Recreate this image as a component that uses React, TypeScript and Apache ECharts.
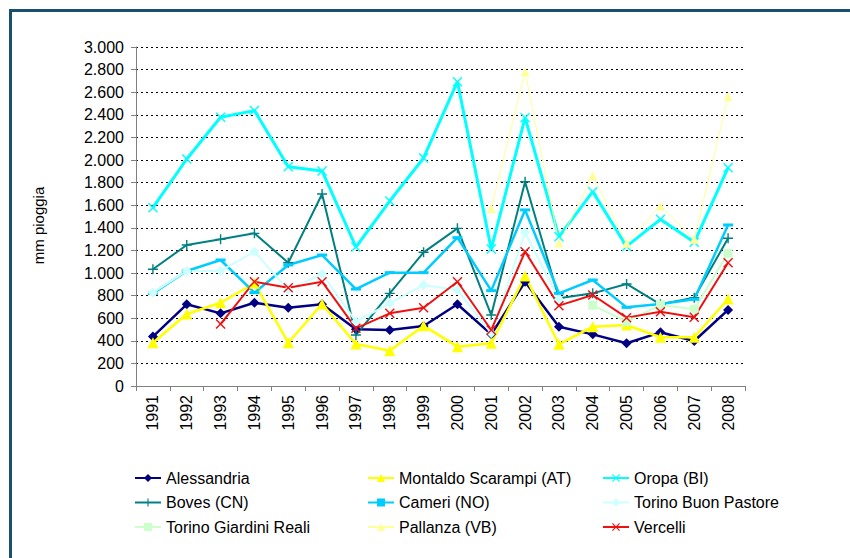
import React, { useEffect, useRef } from "react";
import * as echarts from "echarts";

const years = ["1991","1992","1993","1994","1995","1996","1997","1998","1999","2000","2001","2002","2003","2004","2005","2006","2007","2008"];
const alessandria = [437, 723, 643, 737, 693, 723, 502, 496, 531, 723, 457, 923, 525, 457, 378, 475, 398, 673];
const montaldo = [383, 637, 737, 909, 383, 726, 372, 312, 534, 348, 378, 974, 369, 525, 540, 431, 431, 770];
const oropa = [1578, 2009, 2378, 2437, 1941, 1903, 1230, 1637, 2018, 2693, 1212, 2375, 1320, 1720, 1235, 1475, 1272, 1932];
const boves = [1033, 1248, 1298, 1351, 1091, 1699, 451, 820, 1183, 1395, 628, 1808, 776, 820, 903, 723, 782, 1307];
const cameri = [820, 1018, 1115, 826, 1071, 1159, 858, 1003, 1003, 1313, 844, 1558, 820, 938, 696, 726, 767, 1425];
const torinoBuonPastore = [826, 1018, 1018, 1189, 850, 991, 569, 732, 894, 850, 466, 1360, 767, null, null, null, null, null];
const torinoGiardiniReali = [null, null, null, null, null, null, null, null, null, null, null, null, null, 715, 569, 717, 679, 1174];
const pallanza = [null, null, null, null, null, null, null, null, null, null, 1570, 2782, 1265, 1861, 1263, 1593, 1298, 2560];
const vercelli = [null, null, 548, 923, 870, 923, 510, 643, 693, 923, 496, 1189, 711, 805, 605, 658, 608, 1091];

const X_SYM = "path://M0,1L1,0L5,4L9,0L10,1L6,5L10,9L9,10L5,6L1,10L0,9L4,5Z";
const PLUS_SYM = "path://M4.3,0H5.7V4.3H10V5.7H5.7V10H4.3V5.7H0V4.3H4.3Z";

const FONT = "Arial, 'Liberation Sans', sans-serif";

function fmt(v: number): string {
  if (v >= 1000) {
    const th = Math.floor(v / 1000);
    const rest = String(v % 1000).padStart(3, "0");
    return th + "." + rest;
  }
  return String(v);
}

export default function App() {
  const ref = useRef<HTMLDivElement>(null);
  useEffect(() => {
    if (!ref.current) return;
    const chart = echarts.init(ref.current, null, { renderer: "svg" });
    const mk = (name: string, data: (number | null)[], color: string, width: number, symbol: string, size: any) => ({
      name,
      type: "line",
      data,
      symbol,
      symbolSize: size,
      showSymbol: true,
      lineStyle: { color, width },
      itemStyle: { color, borderColor: color, borderWidth: 0 },
      emphasis: { disabled: true },
    });
    const legendBase = {
      orient: "vertical",
      top: 465,
      itemWidth: 26,
      itemHeight: 10,
      itemGap: 8.5,
      textStyle: { fontSize: 16, fontFamily: FONT, color: "#000", lineHeight: 16 },
    };
    chart.setOption({
      animation: false,
      backgroundColor: "#fff",
      graphic: [
        {
          type: "rect",
          shape: { x: 10.5, y: 10.5, width: 900, height: 600 },
          style: { fill: "none", stroke: "#1B4F72", lineWidth: 3 },
          silent: true,
        },
      ],
      grid: { left: 136, right: 105, top: 47, bottom: 172 },
      legend: [
        { ...legendBase, left: 129, data: ["Alessandria", "Boves (CN)", "Torino Giardini Reali"] },
        { ...legendBase, left: 362, data: ["Montaldo Scarampi (AT)", "Cameri (NO)", "Pallanza (VB)"] },
        { ...legendBase, left: 597, data: ["Oropa (BI)", "Torino Buon Pastore", "Vercelli"] },
      ],
      xAxis: {
        type: "category",
        data: years,
        boundaryGap: true,
        axisLine: { lineStyle: { color: "#808080", width: 1 } },
        axisTick: { show: true, length: 5, alignWithLabel: false, lineStyle: { color: "#808080" } },
        axisLabel: { rotate: 90, fontSize: 16, fontFamily: FONT, color: "#000", margin: 9 },
        splitLine: { show: false },
      },
      yAxis: {
        type: "value",
        min: 0,
        max: 3000,
        interval: 200,
        name: "mm pioggia",
        nameLocation: "middle",
        nameGap: 90,
        nameRotate: 90,
        nameTextStyle: { fontSize: 15, fontFamily: FONT, color: "#000", padding: [0, 18, 0, 0] },
        axisLine: { show: true, lineStyle: { color: "#808080", width: 1 } },
        axisTick: { show: true, length: 5, lineStyle: { color: "#808080" } },
        axisLabel: { fontSize: 16, fontFamily: FONT, color: "#000", margin: 12, formatter: fmt },
        splitLine: { show: true, lineStyle: { color: "#000", width: 1, type: [2, 3] } },
      },
      series: [
        mk("Alessandria", alessandria, "#000080", 2.5, "diamond", 10),
        mk("Montaldo Scarampi (AT)", montaldo, "#FFFF00", 2.5, "triangle", 11),
        mk("Oropa (BI)", oropa, "#00FFFF", 3, X_SYM, 10),
        mk("Boves (CN)", boves, "#008080", 2, PLUS_SYM, 10),
        mk("Cameri (NO)", cameri, "#00CCFF", 2.5, "rect", [10, 3]),
        mk("Torino Buon Pastore", torinoBuonPastore, "#CCFFFF", 2, "diamond", 10),
        mk("Torino Giardini Reali", torinoGiardiniReali, "#CCFFCC", 2, "rect", 9),
        mk("Pallanza (VB)", pallanza, "#FFFF99", 1, "triangle", 9),
        mk("Vercelli", vercelli, "#EE1111", 2, X_SYM, 10),
      ],
    });
    return () => chart.dispose();
  }, []);
  return <div ref={ref} style={{ position: "fixed", left: 0, top: 0, width: 850, height: 558 }} />;
}
